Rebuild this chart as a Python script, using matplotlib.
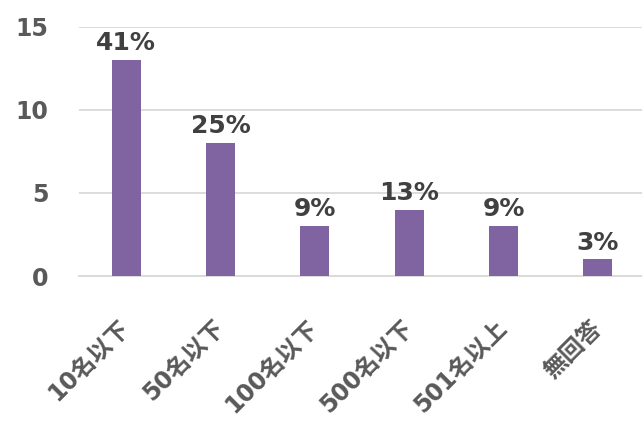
import matplotlib.pyplot as plt
from matplotlib.transforms import ScaledTranslation

categories = ['10名以下', '50名以下', '100名以下', '500名以下', '501名以上', '無回答']
counts = [13, 8, 3, 4, 3, 1]
pct_labels = ['41%', '25%', '9%', '13%', '9%', '3%']

plt.rcParams['font.family'] = ['DejaVu Sans', 'Noto Sans CJK JP']

fig = plt.figure(figsize=(6.42, 4.22), dpi=100)
ax = fig.add_axes([79 / 642, 146 / 422, 566 / 642, 249.3 / 422])

x = range(len(categories))
bars = ax.bar(x, counts, width=0.31, color='#8064A2', zorder=3)

for b, lab in zip(bars, pct_labels):
    ax.annotate(lab, (b.get_x() + b.get_width() / 2, b.get_height()),
                xytext=(0, 3.5), textcoords='offset points',
                ha='center', va='bottom', fontsize=18, fontweight='bold',
                color='#404040')

ax.set_xlim(-0.5, 5.5)
ax.set_ylim(0, 15)
ax.set_yticks([0, 5, 10, 15])
ax.yaxis.grid(True, color='#D9D9D9', linewidth=1.3, zorder=0)
for side in ['top', 'right', 'left']:
    ax.spines[side].set_visible(False)
ax.spines['bottom'].set_color('#D9D9D9')
ax.spines['bottom'].set_linewidth(1.3)
ax.tick_params(axis='both', length=0)
ax.tick_params(axis='y', pad=22, labelsize=17, labelcolor='#595959')
ax.set_xticks(list(x))
ax.set_xticklabels(categories, rotation=45, ha='right', va='top',
                   rotation_mode='anchor', fontsize=17, fontweight='bold',
                   color='#595959')
for t in ax.get_yticklabels():
    t.set_fontweight('bold')

# drop the rotated category labels so their upper end sits under each bar
shift = ScaledTranslation(-8 / 100, -35 / 100, fig.dpi_scale_trans)
for t in ax.get_xticklabels():
    t.set_transform(t.get_transform() + shift)

fig.savefig('out.png', dpi=100)
